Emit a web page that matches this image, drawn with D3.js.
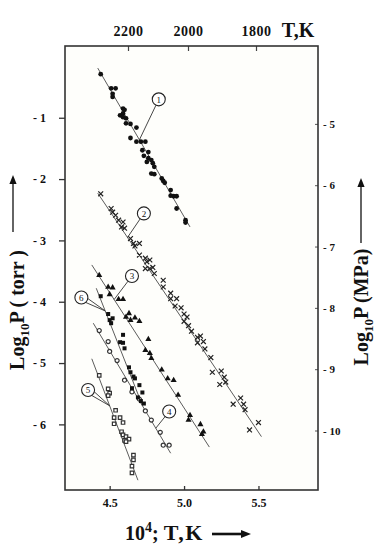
<!doctype html>
<html lang="en">
<head>
<meta charset="utf-8">
<title>Log10 P vs 10^4/T</title>
<style>
    body {
        margin: 0;
        background: #fff;
    }

    svg {
        display: block;
    }

    text {
        font-family: 'Liberation Serif', 'Times New Roman', serif;
        font-weight: bold;
        fill: #111;
    }
</style>
</head>
<body>
<svg id="chart" width="388" height="550"></svg>
<script src="https://cdn.jsdelivr.net/npm/d3@7"></script>
<script>
    // measured points, [10^4/T, log10 P (torr)]
    var series1 = [[4.44,-0.29],[4.51,-0.52],[4.54,-0.52],[4.52,-0.61],[4.52,-0.66],[4.59,-0.85],[4.60,-0.87],
        [4.57,-0.96],[4.59,-0.93],[4.59,-0.99],[4.61,-1.01],[4.61,-1.09],[4.64,-1.10],[4.68,-1.16],[4.64,-1.33],
        [4.68,-1.39],[4.71,-1.39],[4.74,-1.39],[4.72,-1.53],[4.76,-1.56],[4.73,-1.62],[4.76,-1.66],[4.78,-1.69],
        [4.75,-1.72],[4.79,-1.74],[4.80,-1.80],[4.78,-1.91],[4.80,-1.92],[4.85,-1.99],[4.86,-2.03],[4.87,-2.06],
        [4.91,-2.18],[4.91,-2.27],[4.93,-2.28],[4.95,-2.28],[4.95,-2.48],[5.01,-2.67],[5.01,-2.71]];
    var series2 = [[4.44,-2.24],[4.51,-2.48],[4.52,-2.54],[4.54,-2.59],[4.56,-2.67],[4.59,-2.70],[4.58,-2.78],
        [4.60,-2.80],[4.64,-2.97],[4.66,-3.05],[4.67,-3.09],[4.70,-3.05],[4.70,-3.24],[4.74,-3.29],[4.75,-3.35],
        [4.77,-3.32],[4.74,-3.46],[4.77,-3.46],[4.79,-3.44],[4.80,-3.54],[4.86,-3.65],[4.86,-3.76],[4.91,-3.86],
        [4.91,-3.95],[4.95,-3.95],[4.94,-4.07],[4.98,-4.10],[5.00,-4.20],[5.02,-4.25],[5.00,-4.32],[5.03,-4.39],
        [5.05,-4.48],[5.09,-4.58],[5.11,-4.56],[5.09,-4.67],[5.13,-4.65],[5.14,-4.77],[5.18,-4.91],[5.19,-5.15],
        [5.25,-5.13],[5.27,-5.23],[5.28,-5.31],[5.24,-5.35],[5.38,-5.57],[5.40,-5.67],[5.33,-5.67],[5.41,-5.76],
        [5.50,-5.97],[5.44,-6.09]];
    var series3 = [[4.43,-3.57],[4.49,-3.76],[4.52,-3.77],[4.50,-3.88],[4.56,-3.96],[4.59,-3.96],[4.63,-4.19],
        [4.61,-4.25],[4.64,-4.30],[4.67,-4.26],[4.70,-4.32],[4.76,-4.61],[4.74,-4.79],[4.77,-4.84],[4.78,-4.92],
        [4.85,-5.11],[4.89,-5.25],[4.93,-5.28],[4.96,-5.52],[5.04,-5.85],[5.03,-5.93],[5.11,-6.00],[5.13,-6.12],
        [5.12,-6.16]];
    var series4 = [[4.43,-4.47],[4.49,-4.65],[4.50,-4.81],[4.55,-4.96],[4.60,-5.28],[4.65,-5.47],[4.70,-5.59],
        [4.74,-5.78],[4.78,-5.93],[4.84,-6.13],[4.86,-6.34],[4.90,-6.34]];
    var series5 = [[4.43,-5.20],[4.49,-5.42],[4.50,-5.49],[4.49,-5.53],[4.54,-5.77],[4.53,-5.89],[4.57,-5.89],
        [4.53,-5.99],[4.59,-5.97],[4.58,-6.12],[4.59,-6.17],[4.61,-6.20],[4.60,-6.26],[4.63,-6.24],[4.61,-6.28],
        [4.66,-6.50],[4.66,-6.58],[4.65,-6.68],[4.65,-6.79]];
    var series6 = [[4.44,-3.91],[4.49,-4.20],[4.52,-4.27],[4.50,-4.30],[4.51,-4.35],[4.59,-4.54],[4.57,-4.66],
        [4.59,-4.67],[4.60,-4.76],[4.63,-5.07],[4.64,-5.15],[4.66,-5.22],[4.67,-5.25],[4.70,-5.36],[4.65,-5.41],
        [4.72,-5.48],[4.69,-5.56],[4.71,-5.62],[4.73,-5.66]];

    // fitted lines, start and end
    var fitStart = [[4.42,-0.19],[4.42,-2.23],[4.38,-3.40],[4.39,-4.35],[4.38,-4.93],[4.41,-3.78]];
    var fitEnd = [[5.04,-2.78],[5.52,-6.20],[5.17,-6.37],[4.91,-6.47],[4.69,-6.91],[4.72,-5.69]];

    // circled numbers: where the bubble sits and where its leader meets the line (x)
    var labelIds = ["1", "2", "3", "4", "5", "6"];
    var labelAt = [[4.83,-0.70],[4.73,-2.56],[4.65,-3.58],[4.90,-5.79],[4.355,-5.44],[4.31,-3.93]];
    var labelMeet = [4.70, 4.62, 4.53, 4.81, 4.50, 4.47];

    var bottomTicks = [4.5, 5.0, 5.5];
    var topTicks = [2200, 2000, 1800];
    var leftTicks = [-1, -2, -3, -4, -5, -6];
    var rightTicks = [-5, -6, -7, -8, -9, -10];

    var allSeries = [series1, series2, series3, series4, series5, series6];

    var svg = d3.select("#chart");

    var x = d3.scaleLinear().domain([4.2, 5.9]).range([65, 318]);
    var y = d3.scaleLinear().domain([-7.07, 0.17]).range([490, 46]);
    // MPa axis is the torr axis shifted by log10(133.3e-6)
    var yR = d3.scaleLinear().domain([-7.07 - 3.9, 0.17 - 3.9]).range([490, 46]);
    // top temperature scale as printed (not exactly 1e4/T of the bottom one)
    var xT = d3.scaleLinear().domain([2200, 2000, 1800]).range([128, 188, 256]);

    svg.append("rect")
        .attr("x", x.range()[0]).attr("y", y.range()[1])
        .attr("width", x.range()[1] - x.range()[0])
        .attr("height", y.range()[0] - y.range()[1])
        .attr("fill", "#fefefb")
        .attr("stroke", "none");

    var dashFmt = function (d) { return "- " + Math.abs(d); };

    var gl = svg.append("g")
        .attr("transform", "translate(" + x.range()[0] + ",0)")
        .call(d3.axisLeft(y).tickValues(leftTicks).tickSize(6).tickPadding(13).tickFormat(dashFmt));
    gl.select(".domain").remove();
    gl.selectAll("text").style("font-size", "12px");
    gl.selectAll("line").attr("stroke", "#333").attr("stroke-width", 1.3);

    var gr = svg.append("g")
        .attr("transform", "translate(" + x.range()[1] + ",0)")
        .call(d3.axisRight(yR).tickValues(rightTicks).tickSize(-3).tickPadding(5).tickFormat(dashFmt));
    gr.select(".domain").remove();
    gr.selectAll("text").style("font-size", "11px");
    gr.selectAll("line").attr("stroke", "#555");

    var gt = svg.append("g")
        .attr("transform", "translate(0," + y.range()[1] + ")")
        .call(d3.axisTop(xT).tickValues(topTicks).tickSize(-5).tickPadding(10).tickFormat(d3.format("d")));
    gt.select(".domain").remove();
    gt.selectAll("text").style("font-size", "14px").style("letter-spacing", "0.5px");
    gt.selectAll("line").attr("stroke", "#444").attr("stroke-width", 1.2);

    var gb = svg.append("g")
        .attr("transform", "translate(0," + y.range()[0] + ")")
        .call(d3.axisBottom(x).tickValues(bottomTicks).tickSize(-4).tickPadding(8).tickFormat(d3.format(".1f")));
    gb.select(".domain").remove();
    gb.selectAll("text").style("font-size", "12px");
    gb.selectAll("line").attr("stroke", "#333").attr("stroke-width", 1.3);

    // frame
    svg.append("rect")
        .attr("x", x.range()[0]).attr("y", y.range()[1])
        .attr("width", x.range()[1] - x.range()[0])
        .attr("height", y.range()[0] - y.range()[1])
        .attr("fill", "none")
        .attr("stroke", "#333")
        .attr("stroke-width", 1.6);

    // fitted lines
    svg.append("g").selectAll("line")
        .data(fitStart)
        .join("line")
        .attr("x1", function (d) { return x(d[0]); })
        .attr("y1", function (d) { return y(d[1]); })
        .attr("x2", function (d, i) { return x(fitEnd[i][0]); })
        .attr("y2", function (d, i) { return y(fitEnd[i][1]); })
        .attr("stroke", "#4a4a4a")
        .attr("stroke-width", 0.9);

    // markers
    var styles = [
        { type: d3.symbolCircle, size: 18, fill: "#111", stroke: "none" },
        { type: d3.symbolTimes, size: 17, fill: "none", stroke: "#222" },
        { type: d3.symbolTriangle, size: 16, fill: "#111", stroke: "none" },
        { type: d3.symbolCircle, size: 13, fill: "#fff", stroke: "#333" },
        { type: d3.symbolSquare, size: 12, fill: "#fff", stroke: "#333" },
        { type: d3.symbolSquare, size: 16, fill: "#111", stroke: "none" }
    ];

    allSeries.forEach(function (data, i) {
        var st = styles[i];
        svg.append("g").selectAll("path")
            .data(data)
            .join("path")
            .attr("transform", function (d) { return "translate(" + x(d[0]) + "," + y(d[1]) + ")"; })
            .attr("d", d3.symbol().type(st.type).size(st.size))
            .attr("fill", st.fill)
            .attr("stroke", st.stroke)
            .attr("stroke-width", 1.2);
    });

    // circled numbers with leaders
    var r = 6.5;
    labelIds.forEach(function (id, i) {
        var s = fitStart[i], e = fitEnd[i];
        var mx = labelMeet[i];
        var my = s[1] + (mx - s[0]) * (e[1] - s[1]) / (e[0] - s[0]);
        var cx = x(labelAt[i][0]), cy = y(labelAt[i][1]);
        var px = x(mx), py = y(my);
        var ang = Math.atan2(py - cy, px - cx);
        var offs = (id === "5" || id === "6") ? [-0.35, 0.35] : [0];
        offs.forEach(function (o) {
            svg.append("line")
                .attr("x1", cx + r * Math.cos(ang + o)).attr("y1", cy + r * Math.sin(ang + o))
                .attr("x2", px).attr("y2", py)
                .attr("stroke", "#333").attr("stroke-width", 0.9);
        });
        svg.append("circle")
            .attr("cx", cx).attr("cy", cy).attr("r", r)
            .attr("fill", "#fff").attr("stroke", "#222").attr("stroke-width", 1.1);
        svg.append("text")
            .attr("x", cx).attr("y", cy).attr("dy", "0.35em")
            .attr("text-anchor", "middle")
            .style("font-size", "9px").style("font-weight", "normal")
            .text(id);
    });

    // axis titles
    svg.append("text")
        .attr("x", 298).attr("y", 37)
        .attr("text-anchor", "middle")
        .style("font-size", "20px")
        .text("T,K");

    var bt = svg.append("text").attr("x", 125).attr("y", 540).style("font-size", "20px");
    bt.append("tspan").text("10");
    bt.append("tspan").attr("dy", -8).style("font-size", "14px").text("4");
    bt.append("tspan").attr("dy", 8).text("; ");
    bt.append("tspan").style("font-size", "22px").style("letter-spacing", "1.5px").text("T,K");

    function vTitle(tx, ty, rest) {
        var t = svg.append("text")
            .attr("transform", "translate(" + tx + "," + ty + ") rotate(-90)")
            .attr("text-anchor", "middle")
            .style("font-size", "20px");
        t.append("tspan").text("Log");
        t.append("tspan").attr("dy", 5).style("font-size", "13px").text("10");
        t.append("tspan").attr("dy", -5).text(rest);
    }
    vTitle(24, 310, "P ( torr )");
    vTitle(368, 307, "P (MPa)");

    function arrow(x1, y1, x2, y2, w, head) {
        var ang = Math.atan2(y2 - y1, x2 - x1);
        var bx = x2 - head * Math.cos(ang), by = y2 - head * Math.sin(ang);
        svg.append("line")
            .attr("x1", x1).attr("y1", y1).attr("x2", bx).attr("y2", by)
            .attr("stroke", "#111").attr("stroke-width", w);
        var hw = head * 0.4;
        var pts = [[x2, y2],
            [bx + hw * Math.sin(ang), by - hw * Math.cos(ang)],
            [bx - hw * Math.sin(ang), by + hw * Math.cos(ang)]];
        svg.append("path").attr("d", d3.line()(pts) + "Z").attr("fill", "#111");
    }
    arrow(13, 232, 13, 175, 1.3, 9);
    arrow(361, 243, 361, 178, 1.3, 9);
    arrow(212, 534, 251, 534, 2.6, 10);
</script>
</body>
</html>
